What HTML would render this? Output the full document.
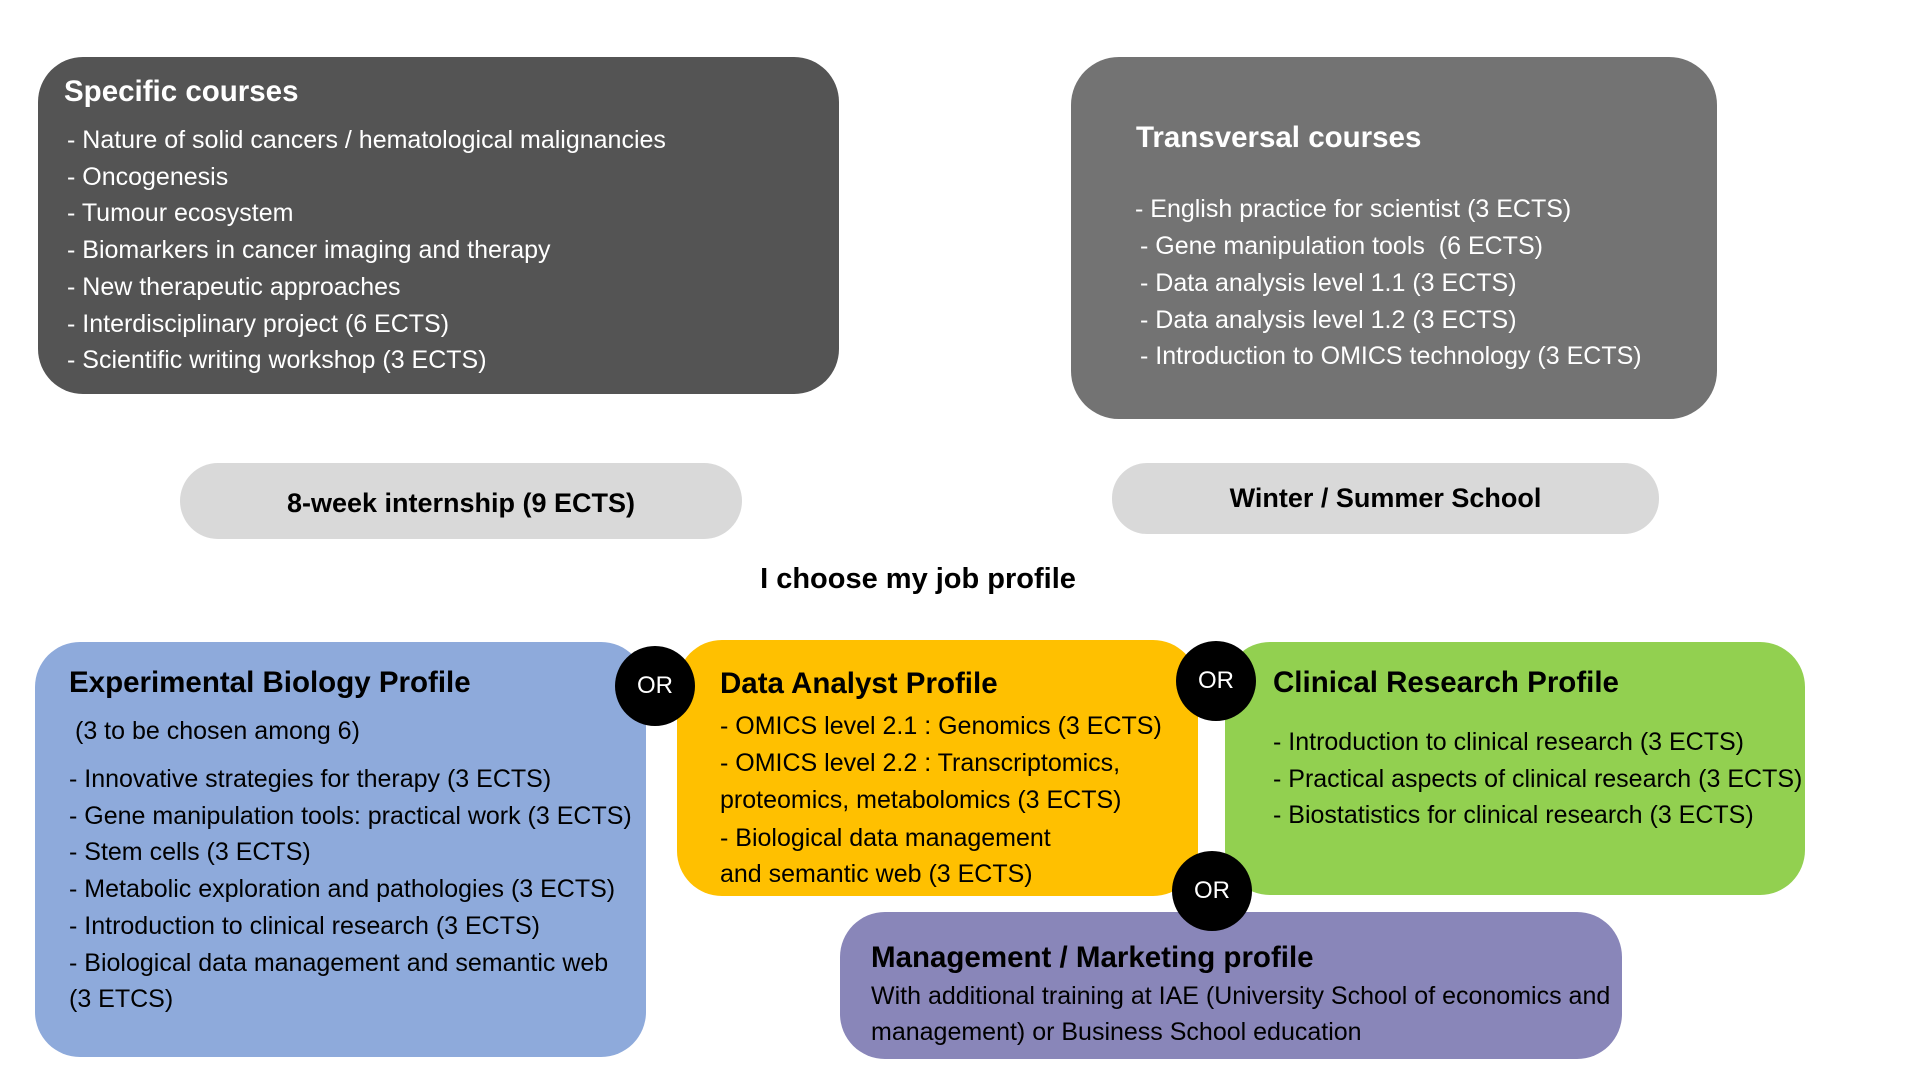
<!DOCTYPE html>
<html><head><meta charset="utf-8"><style>
body{margin:0;width:1920px;height:1080px;background:#fff;position:relative;overflow:hidden;font-family:"Liberation Sans",sans-serif;}
.b{position:absolute;}
.t{position:absolute;white-space:nowrap;line-height:36px;height:36px;font-size:25px;}
.h{font-weight:bold;font-size:29.5px;}
.w{color:#fff;}
.or{position:absolute;width:80px;height:80px;border-radius:50%;background:#000;color:#fff;font-size:24px;line-height:80px;text-align:center;}
</style></head><body>
<div class="b" style="left:38px;top:57px;width:801px;height:337px;background:#545454;border-radius:45px"></div>
<div class="b" style="left:1071px;top:57px;width:646px;height:362px;background:#737373;border-radius:48px"></div>
<div class="b" style="left:180px;top:463px;width:562px;height:76px;background:#d9d9d9;border-radius:38px"></div>
<div class="b" style="left:1112px;top:463px;width:547px;height:71px;background:#d9d9d9;border-radius:35px"></div>
<div class="b" style="left:35px;top:642px;width:611px;height:415px;background:#8eaadb;border-radius:45px"></div>
<div class="b" style="left:677px;top:640px;width:521px;height:256px;background:#ffc000;border-radius:45px"></div>
<div class="b" style="left:1225px;top:642px;width:580px;height:253px;background:#92d050;border-radius:45px"></div>
<div class="b" style="left:840px;top:912px;width:782px;height:147px;background:#8986b9;border-radius:45px"></div>

<div class="t h w" style="left:64px;top:74px">Specific courses</div>
<div class="t w" style="left:67px;top:122px">- Nature of solid cancers / hematological malignancies</div>
<div class="t w" style="left:67px;top:159px">- Oncogenesis</div>
<div class="t w" style="left:67px;top:195px">- Tumour ecosystem</div>
<div class="t w" style="left:67px;top:232px">- Biomarkers in cancer imaging and therapy</div>
<div class="t w" style="left:67px;top:269px">- New therapeutic approaches</div>
<div class="t w" style="left:67px;top:306px">- Interdisciplinary project (6 ECTS)</div>
<div class="t w" style="left:67px;top:342px">- Scientific writing workshop (3 ECTS)</div>

<div class="t h w" style="left:1136px;top:120px">Transversal courses</div>
<div class="t w" style="left:1135px;top:191px">- English practice for scientist (3 ECTS)</div>
<div class="t w" style="left:1140px;top:228px">- Gene manipulation tools &nbsp;(6 ECTS)</div>
<div class="t w" style="left:1140px;top:265px">- Data analysis level 1.1 (3 ECTS)</div>
<div class="t w" style="left:1140px;top:302px">- Data analysis level 1.2 (3 ECTS)</div>
<div class="t w" style="left:1140px;top:338px">- Introduction to OMICS technology (3 ECTS)</div>

<div class="t h" style="left:180px;width:562px;text-align:center;top:485px;font-size:27px">8-week internship (9 ECTS)</div>
<div class="t h" style="left:1112px;width:547px;text-align:center;top:480px;font-size:27px">Winter / Summer School</div>
<div class="t h" style="left:668px;width:500px;text-align:center;top:561px;font-size:29px">I choose my job profile</div>

<div class="t h" style="left:69px;top:665px">Experimental Biology Profile</div>
<div class="t" style="left:75px;top:713px">(3 to be chosen among 6)</div>
<div class="t" style="left:69px;top:761px">- Innovative strategies for therapy (3 ECTS)</div>
<div class="t" style="left:69px;top:798px">- Gene manipulation tools: practical work (3 ECTS)</div>
<div class="t" style="left:69px;top:834px">- Stem cells (3 ECTS)</div>
<div class="t" style="left:69px;top:871px">- Metabolic exploration and pathologies (3 ECTS)</div>
<div class="t" style="left:69px;top:908px">- Introduction to clinical research (3 ECTS)</div>
<div class="t" style="left:69px;top:945px">- Biological data management and semantic web</div>
<div class="t" style="left:69px;top:981px">(3 ETCS)</div>

<div class="t h" style="left:720px;top:666px">Data Analyst Profile</div>
<div class="t" style="left:720px;top:708px">- OMICS level 2.1 : Genomics (3 ECTS)</div>
<div class="t" style="left:720px;top:745px">- OMICS level 2.2 : Transcriptomics,</div>
<div class="t" style="left:720px;top:782px">proteomics, metabolomics (3 ECTS)</div>
<div class="t" style="left:720px;top:820px">- Biological data management</div>
<div class="t" style="left:720px;top:856px">and semantic web (3 ECTS)</div>

<div class="t h" style="left:1273px;top:665px">Clinical Research Profile</div>
<div class="t" style="left:1273px;top:724px">- Introduction to clinical research (3 ECTS)</div>
<div class="t" style="left:1273px;top:761px">- Practical aspects of clinical research (3 ECTS)</div>
<div class="t" style="left:1273px;top:797px">- Biostatistics for clinical research (3 ECTS)</div>

<div class="t h" style="left:871px;top:940px">Management / Marketing profile</div>
<div class="t" style="left:871px;top:978px">With additional training at IAE (University School of economics and</div>
<div class="t" style="left:871px;top:1014px">management) or Business School education</div>

<div class="or" style="left:615px;top:646px">OR</div>
<div class="or" style="left:1176px;top:641px">OR</div>
<div class="or" style="left:1172px;top:851px">OR</div>
</body></html>
